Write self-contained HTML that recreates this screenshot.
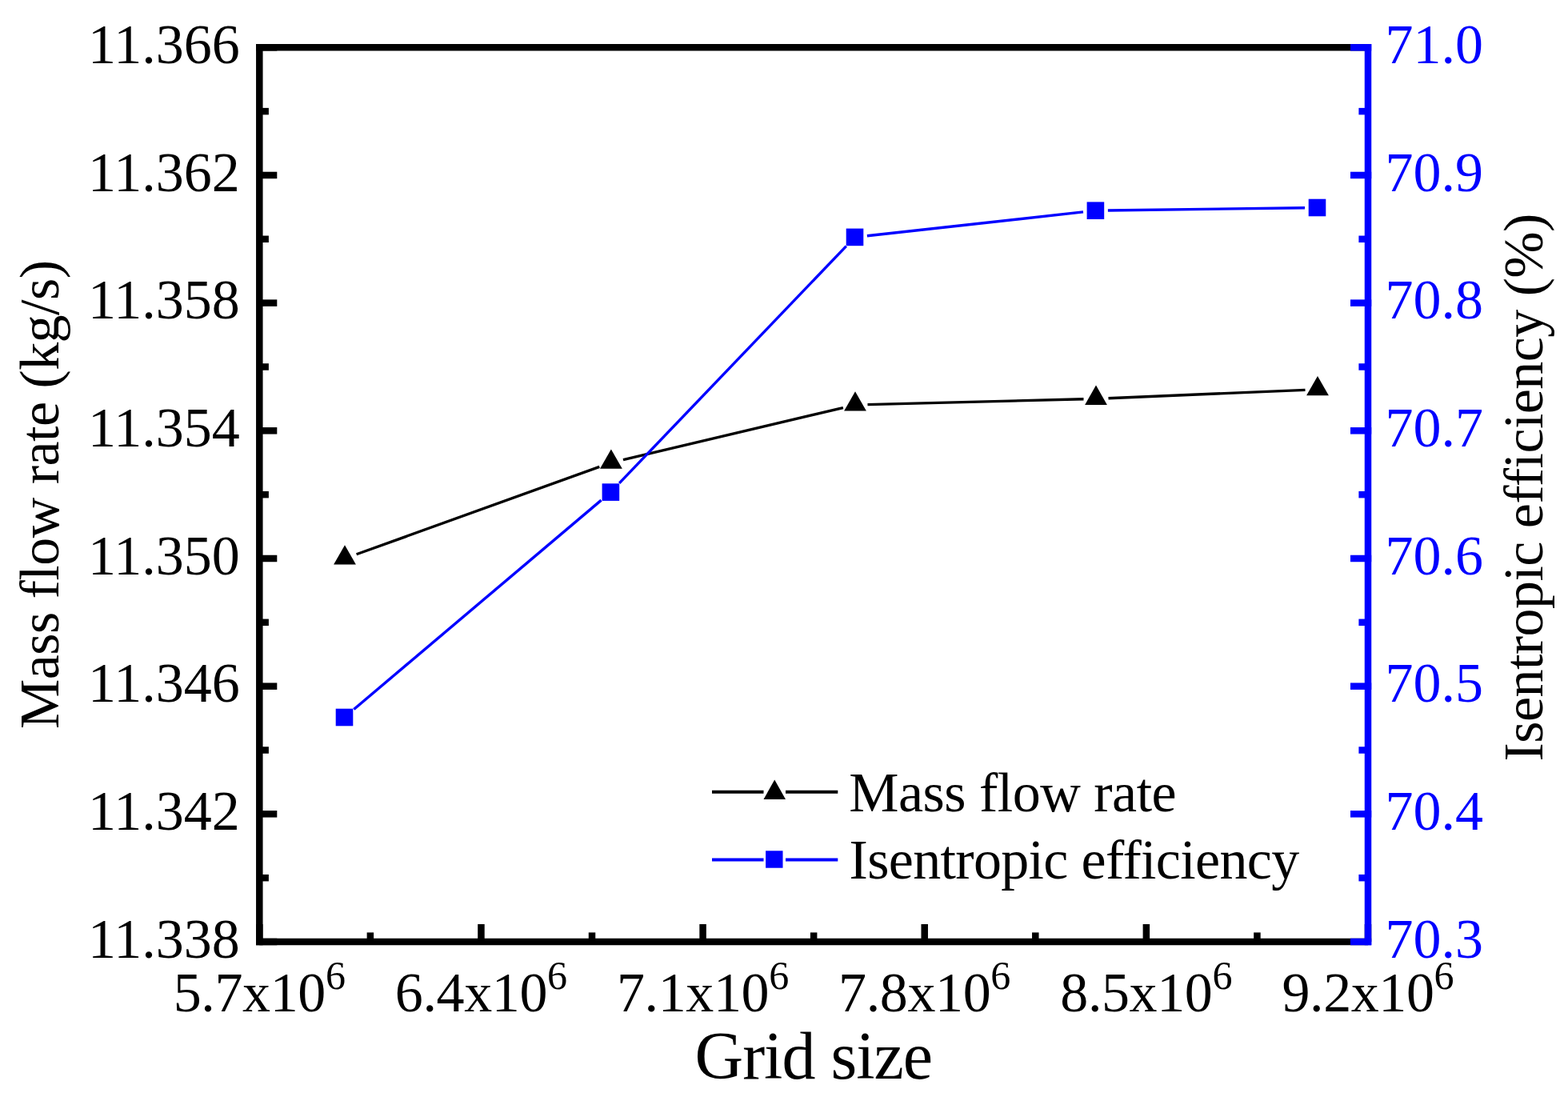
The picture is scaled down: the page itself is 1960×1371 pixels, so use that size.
<!DOCTYPE html>
<html><head><meta charset="utf-8"><title>Grid independence</title>
<style>html,body{margin:0;padding:0;background:#fff;}body{width:1960px;height:1371px;overflow:hidden;}svg{display:block;}</style>
</head><body>
<svg width="1960" height="1371" viewBox="0 0 1960 1371">
<rect width="1960" height="1371" fill="#fff"/>
<line x1="445.58" y1="692.75" x2="749.32" y2="583.45" stroke="#000" stroke-width="3.4"/>
<line x1="778.98" y1="574.63" x2="1053.92" y2="509.57" stroke="#000" stroke-width="3.4"/>
<line x1="1084.50" y1="505.61" x2="1354.50" y2="498.79" stroke="#000" stroke-width="3.4"/>
<line x1="1385.49" y1="497.75" x2="1631.51" y2="487.35" stroke="#000" stroke-width="3.4"/>
<line x1="442.34" y1="886.49" x2="751.56" y2="625.11" stroke="#0000ff" stroke-width="3.4"/>
<line x1="774.12" y1="603.90" x2="1057.78" y2="307.60" stroke="#0000ff" stroke-width="3.4"/>
<line x1="1083.91" y1="294.70" x2="1353.99" y2="264.90" stroke="#0000ff" stroke-width="3.4"/>
<line x1="1384.90" y1="262.99" x2="1631.00" y2="259.71" stroke="#0000ff" stroke-width="3.4"/>
<polygon points="431.00,681.20 444.90,705.60 417.10,705.60" fill="#000"/>
<polygon points="763.90,561.40 777.80,585.80 750.00,585.80" fill="#000"/>
<polygon points="1069.00,489.20 1082.90,513.60 1055.10,513.60" fill="#000"/>
<polygon points="1370.00,481.60 1383.90,506.00 1356.10,506.00" fill="#000"/>
<polygon points="1647.00,469.90 1660.90,494.30 1633.10,494.30" fill="#000"/>
<rect x="419.70" y="885.70" width="21.6" height="21.6" fill="#0000ff"/>
<rect x="752.60" y="604.30" width="21.6" height="21.6" fill="#0000ff"/>
<rect x="1057.70" y="285.60" width="21.6" height="21.6" fill="#0000ff"/>
<rect x="1358.60" y="252.40" width="21.6" height="21.6" fill="#0000ff"/>
<rect x="1635.70" y="248.70" width="21.6" height="21.6" fill="#0000ff"/>
<line x1="324.3" y1="55.05" x2="324.3" y2="1181.25" stroke="#000" stroke-width="8.5"/>
<line x1="320.05" y1="59.3" x2="1710.0" y2="59.3" stroke="#000" stroke-width="8.5"/>
<line x1="320.05" y1="1177.0" x2="1710.0" y2="1177.0" stroke="#000" stroke-width="8.5"/>
<line x1="324.3" y1="1177.00" x2="346.30" y2="1177.00" stroke="#000" stroke-width="8.5"/>
<line x1="324.3" y1="1097.16" x2="335.90" y2="1097.16" stroke="#000" stroke-width="8.5"/>
<line x1="324.3" y1="1017.33" x2="346.30" y2="1017.33" stroke="#000" stroke-width="8.5"/>
<line x1="324.3" y1="937.49" x2="335.90" y2="937.49" stroke="#000" stroke-width="8.5"/>
<line x1="324.3" y1="857.66" x2="346.30" y2="857.66" stroke="#000" stroke-width="8.5"/>
<line x1="324.3" y1="777.82" x2="335.90" y2="777.82" stroke="#000" stroke-width="8.5"/>
<line x1="324.3" y1="697.99" x2="346.30" y2="697.99" stroke="#000" stroke-width="8.5"/>
<line x1="324.3" y1="618.15" x2="335.90" y2="618.15" stroke="#000" stroke-width="8.5"/>
<line x1="324.3" y1="538.31" x2="346.30" y2="538.31" stroke="#000" stroke-width="8.5"/>
<line x1="324.3" y1="458.48" x2="335.90" y2="458.48" stroke="#000" stroke-width="8.5"/>
<line x1="324.3" y1="378.64" x2="346.30" y2="378.64" stroke="#000" stroke-width="8.5"/>
<line x1="324.3" y1="298.81" x2="335.90" y2="298.81" stroke="#000" stroke-width="8.5"/>
<line x1="324.3" y1="218.97" x2="346.30" y2="218.97" stroke="#000" stroke-width="8.5"/>
<line x1="324.3" y1="139.14" x2="335.90" y2="139.14" stroke="#000" stroke-width="8.5"/>
<line x1="324.3" y1="59.30" x2="346.30" y2="59.30" stroke="#000" stroke-width="8.5"/>
<line x1="324.30" y1="1177.0" x2="324.30" y2="1155.00" stroke="#000" stroke-width="8.5"/>
<line x1="462.87" y1="1177.0" x2="462.87" y2="1165.40" stroke="#000" stroke-width="8.5"/>
<line x1="601.44" y1="1177.0" x2="601.44" y2="1155.00" stroke="#000" stroke-width="8.5"/>
<line x1="740.01" y1="1177.0" x2="740.01" y2="1165.40" stroke="#000" stroke-width="8.5"/>
<line x1="878.58" y1="1177.0" x2="878.58" y2="1155.00" stroke="#000" stroke-width="8.5"/>
<line x1="1017.15" y1="1177.0" x2="1017.15" y2="1165.40" stroke="#000" stroke-width="8.5"/>
<line x1="1155.72" y1="1177.0" x2="1155.72" y2="1155.00" stroke="#000" stroke-width="8.5"/>
<line x1="1294.29" y1="1177.0" x2="1294.29" y2="1165.40" stroke="#000" stroke-width="8.5"/>
<line x1="1432.86" y1="1177.0" x2="1432.86" y2="1155.00" stroke="#000" stroke-width="8.5"/>
<line x1="1571.43" y1="1177.0" x2="1571.43" y2="1165.40" stroke="#000" stroke-width="8.5"/>
<line x1="1710.00" y1="1177.0" x2="1710.00" y2="1155.00" stroke="#000" stroke-width="8.5"/>
<line x1="1710.0" y1="55.05" x2="1710.0" y2="1181.25" stroke="#0000ff" stroke-width="8.5"/>
<line x1="1714.25" y1="1177.00" x2="1688.00" y2="1177.00" stroke="#0000ff" stroke-width="8.5"/>
<line x1="1710.0" y1="1097.16" x2="1698.40" y2="1097.16" stroke="#0000ff" stroke-width="8.5"/>
<line x1="1714.25" y1="1017.33" x2="1688.00" y2="1017.33" stroke="#0000ff" stroke-width="8.5"/>
<line x1="1710.0" y1="937.49" x2="1698.40" y2="937.49" stroke="#0000ff" stroke-width="8.5"/>
<line x1="1714.25" y1="857.66" x2="1688.00" y2="857.66" stroke="#0000ff" stroke-width="8.5"/>
<line x1="1710.0" y1="777.82" x2="1698.40" y2="777.82" stroke="#0000ff" stroke-width="8.5"/>
<line x1="1714.25" y1="697.99" x2="1688.00" y2="697.99" stroke="#0000ff" stroke-width="8.5"/>
<line x1="1710.0" y1="618.15" x2="1698.40" y2="618.15" stroke="#0000ff" stroke-width="8.5"/>
<line x1="1714.25" y1="538.31" x2="1688.00" y2="538.31" stroke="#0000ff" stroke-width="8.5"/>
<line x1="1710.0" y1="458.48" x2="1698.40" y2="458.48" stroke="#0000ff" stroke-width="8.5"/>
<line x1="1714.25" y1="378.64" x2="1688.00" y2="378.64" stroke="#0000ff" stroke-width="8.5"/>
<line x1="1710.0" y1="298.81" x2="1698.40" y2="298.81" stroke="#0000ff" stroke-width="8.5"/>
<line x1="1714.25" y1="218.97" x2="1688.00" y2="218.97" stroke="#0000ff" stroke-width="8.5"/>
<line x1="1710.0" y1="139.14" x2="1698.40" y2="139.14" stroke="#0000ff" stroke-width="8.5"/>
<line x1="1714.25" y1="59.30" x2="1688.00" y2="59.30" stroke="#0000ff" stroke-width="8.5"/>
<text x="299.8" y="1196.60" text-anchor="end" font-family="'Liberation Serif','Times New Roman',serif" font-size="70">11.338</text>
<text x="299.8" y="1036.93" text-anchor="end" font-family="'Liberation Serif','Times New Roman',serif" font-size="70">11.342</text>
<text x="299.8" y="877.26" text-anchor="end" font-family="'Liberation Serif','Times New Roman',serif" font-size="70">11.346</text>
<text x="299.8" y="717.59" text-anchor="end" font-family="'Liberation Serif','Times New Roman',serif" font-size="70">11.350</text>
<text x="299.8" y="557.91" text-anchor="end" font-family="'Liberation Serif','Times New Roman',serif" font-size="70">11.354</text>
<text x="299.8" y="398.24" text-anchor="end" font-family="'Liberation Serif','Times New Roman',serif" font-size="70">11.358</text>
<text x="299.8" y="238.57" text-anchor="end" font-family="'Liberation Serif','Times New Roman',serif" font-size="70">11.362</text>
<text x="299.8" y="78.90" text-anchor="end" font-family="'Liberation Serif','Times New Roman',serif" font-size="70">11.366</text>
<text x="1731.6" y="1196.60" font-family="'Liberation Serif','Times New Roman',serif" font-size="70" fill="#0000ff">70.3</text>
<text x="1731.6" y="1036.93" font-family="'Liberation Serif','Times New Roman',serif" font-size="70" fill="#0000ff">70.4</text>
<text x="1731.6" y="877.26" font-family="'Liberation Serif','Times New Roman',serif" font-size="70" fill="#0000ff">70.5</text>
<text x="1731.6" y="717.59" font-family="'Liberation Serif','Times New Roman',serif" font-size="70" fill="#0000ff">70.6</text>
<text x="1731.6" y="557.91" font-family="'Liberation Serif','Times New Roman',serif" font-size="70" fill="#0000ff">70.7</text>
<text x="1731.6" y="398.24" font-family="'Liberation Serif','Times New Roman',serif" font-size="70" fill="#0000ff">70.8</text>
<text x="1731.6" y="238.57" font-family="'Liberation Serif','Times New Roman',serif" font-size="70" fill="#0000ff">70.9</text>
<text x="1731.6" y="78.90" font-family="'Liberation Serif','Times New Roman',serif" font-size="70" fill="#0000ff">71.0</text>
<text x="324.30" y="1264.0" text-anchor="middle" font-family="'Liberation Serif','Times New Roman',serif" font-size="70" textLength="215.2" lengthAdjust="spacing">5.7x10<tspan font-size="50" dy="-28">6</tspan></text>
<text x="601.44" y="1264.0" text-anchor="middle" font-family="'Liberation Serif','Times New Roman',serif" font-size="70" textLength="215.2" lengthAdjust="spacing">6.4x10<tspan font-size="50" dy="-28">6</tspan></text>
<text x="878.58" y="1264.0" text-anchor="middle" font-family="'Liberation Serif','Times New Roman',serif" font-size="70" textLength="215.2" lengthAdjust="spacing">7.1x10<tspan font-size="50" dy="-28">6</tspan></text>
<text x="1155.72" y="1264.0" text-anchor="middle" font-family="'Liberation Serif','Times New Roman',serif" font-size="70" textLength="215.2" lengthAdjust="spacing">7.8x10<tspan font-size="50" dy="-28">6</tspan></text>
<text x="1432.86" y="1264.0" text-anchor="middle" font-family="'Liberation Serif','Times New Roman',serif" font-size="70" textLength="215.2" lengthAdjust="spacing">8.5x10<tspan font-size="50" dy="-28">6</tspan></text>
<text x="1710.00" y="1264.0" text-anchor="middle" font-family="'Liberation Serif','Times New Roman',serif" font-size="70" textLength="215.2" lengthAdjust="spacing">9.2x10<tspan font-size="50" dy="-28">6</tspan></text>
<text x="1017.3" y="1347.5" text-anchor="middle" font-family="'Liberation Serif','Times New Roman',serif" font-size="84" textLength="297.7" lengthAdjust="spacing">Grid size</text>
<text transform="translate(72.6,618.0) rotate(-90)" x="0" y="0" text-anchor="middle" font-family="'Liberation Serif','Times New Roman',serif" font-size="70" textLength="586" lengthAdjust="spacing">Mass flow rate (kg/s)</text>
<text transform="translate(1928,609) rotate(-90)" x="0" y="0" text-anchor="middle" font-family="'Liberation Serif','Times New Roman',serif" font-size="70" textLength="684.9" lengthAdjust="spacing">Isentropic efficiency (%)</text>
<line x1="890" y1="989.8" x2="954.5" y2="989.8" stroke="#000" stroke-width="4"/>
<line x1="982" y1="989.8" x2="1047.3" y2="989.8" stroke="#000" stroke-width="4"/>
<polygon points="968.2,974.5 982,999 954.5,999" fill="#000"/>
<line x1="890" y1="1074.5" x2="954.5" y2="1074.5" stroke="#0000ff" stroke-width="4"/>
<line x1="982" y1="1074.5" x2="1047.3" y2="1074.5" stroke="#0000ff" stroke-width="4"/>
<rect x="957.1" y="1063.3" width="21.4" height="21.4" fill="#0000ff"/>
<text x="1061.3" y="1013.5" font-family="'Liberation Serif','Times New Roman',serif" font-size="70" textLength="409.4" lengthAdjust="spacing">Mass flow rate</text>
<text x="1061.5" y="1098.3" font-family="'Liberation Serif','Times New Roman',serif" font-size="70" textLength="562.7" lengthAdjust="spacing">Isentropic efficiency</text>
</svg>
</body></html>
